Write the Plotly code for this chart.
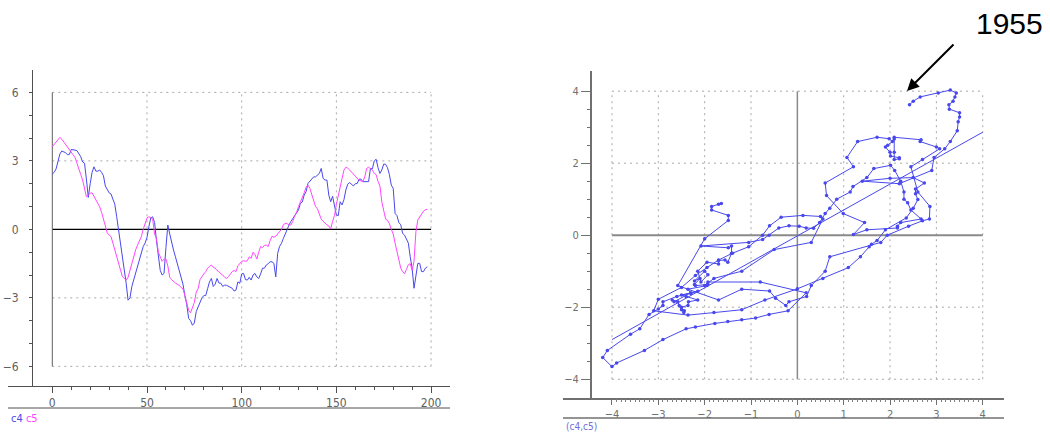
import plotly.graph_objects as go

# ---------------- data ----------------
t = list(range(0, 199))

c4 = [2.42, 2.5, 2.65, 3.04, 3.3, 3.43, 3.4, 3.36, 3.27, 3.28,
      3.5, 3.5, 3.47, 3.45, 3.3, 3.18, 2.95, 2.9, 2.2, 1.4,
      2.0, 2.5, 2.74, 2.55, 2.55, 2.6, 2.5, 2.35, 1.9, 1.72,
      1.6, 1.55, 1.36, 1.1, 0.55, 0.0, -0.7, -1.2, -1.8, -2.36,
      -3.1, -3.0, -2.5, -2.2, -1.95, -1.7, -1.4, -1.05, -0.75, -0.6,
      -0.35, 0.12, 0.5, 0.55, 0.3, -0.5, -1.2, -1.8, -2.0, -1.93,
      -0.8, 0.19, -0.2, -0.61, -0.9, -1.2, -1.5, -1.78, -2.2, -2.4,
      -2.9, -3.3, -3.9, -4.0, -4.2, -4.1, -3.6, -3.4, -3.2, -3.0,
      -2.9, -2.9, -2.6, -2.3, -2.15, -2.5, -2.4, -2.15, -2.35, -2.36,
      -2.5, -2.44, -2.45, -2.5, -2.55, -2.58, -2.7, -2.66, -2.3, -2.36,
      -1.95, -1.93, -2.2, -2.22, -2.1, -2.22, -2.0, -1.93, -2.08, -2.15,
      -1.95, -1.7, -1.7, -1.56, -1.5, -1.42, -1.42, -1.49, -2.08, -1.05,
      -0.75, -0.61, -0.4, -0.18, 0.04, 0.19, 0.35, 0.48, 0.6, 0.7,
      0.85, 1.14, 1.2, 1.5, 1.65, 2.01, 2.1, 2.23, 2.3, 2.3,
      2.38, 2.45, 2.67, 2.23, 2.16, 2.16, 1.5, 1.21, 1.45, 0.99,
      0.63, 0.6, 1.21, 1.07, 1.3, 1.72, 1.98, 2.05, 1.95, 1.9,
      2.0, 2.01, 2.2, 2.2, 2.09, 2.09, 2.09, 2.09, 2.67, 2.65,
      3.0, 3.07, 2.7, 2.45, 2.6, 2.86, 2.85, 2.7, 2.4, 1.94,
      1.8, 0.7, 0.6, 0.3, 0.2, -0.18, -0.25, -0.47, -0.6, -1.2,
      -1.7, -2.58, -2.0, -1.49, -1.49, -1.85, -1.85, -1.7, -1.64]

c5 = [3.62, 3.72, 3.84, 3.95, 4.03, 3.95, 3.84, 3.72, 3.62, 3.5,
      3.4, 3.28, 3.15, 2.9, 2.6, 2.4, 2.16, 1.8, 1.43, 1.5,
      1.58, 1.6, 1.45, 1.28, 1.15, 0.99, 0.75, 0.48, 0.15, -0.15,
      -0.25, -0.32, -0.6, -0.9, -1.2, -1.49, -1.8, -2.07, -2.15, -2.22,
      -2.1, -1.78, -1.45, -1.12, -0.9, -0.69, -0.5, -0.32, 0.0, 0.26,
      0.5, 0.55, 0.52, 0.45, -0.2, -0.4, -1.0, -1.2, -1.4, -1.3,
      -1.3, -1.6, -2.1, -2.2, -2.3, -2.35, -2.4, -2.45, -2.55, -2.6,
      -2.9, -3.2, -3.55, -3.65, -3.4, -3.2, -2.75, -2.6, -2.2, -2.05,
      -1.95, -1.85, -1.7, -1.62, -1.56, -1.66, -1.7, -1.8, -1.85, -1.95,
      -2.0, -2.1, -2.15, -2.07, -1.95, -1.85, -1.8, -1.85, -1.6, -1.5,
      -1.4, -1.37, -1.4, -1.37, -1.2, -1.27, -1.0, -1.1, -1.3, -1.0,
      -0.75, -0.8, -0.7, -0.69, -0.75, -0.5, -0.3, -0.35, -0.3, -0.2,
      -0.12, 0.0, 0.2, 0.26, 0.25, 0.2, 0.19, 0.35, 0.6, 0.75,
      1.0, 1.2, 1.35, 1.6, 1.85, 1.94, 1.8, 1.5, 1.2, 1.0,
      0.9, 0.7, 0.45, 0.35, 0.25, 0.2, 0.15, 0.02, 0.35, 0.6,
      1.1, 1.45, 1.9, 2.16, 2.6, 2.72, 2.68, 2.6, 2.5, 2.45,
      2.3, 2.2, 2.15, 2.12, 2.1, 2.3, 2.67, 2.72, 2.65, 2.6,
      2.45, 2.4, 2.1, 1.9, 1.2, 0.8, 0.45, 0.4, 0.25, 0.0,
      -0.2, -0.6, -1.0, -1.4, -1.7, -1.85, -1.95, -1.75, -1.55, -1.5,
      -1.8, -1.4, -0.1, 0.41, 0.55, 0.7, 0.8, 0.86, 0.88]

# fitted line
fit_slope = 0.72
fit_intercept = -0.02
fit_x = [-4, 4]

left_x_major = [0, 50, 100, 150, 200]
left_x_minor = [v for v in range(10, 200, 10) if v % 50 != 0]
left_y_major = [-6, -3, 0, 3, 6]
left_y_minor = [v for v in range(-6, 7) if v % 3 != 0]

right_x_major = [-4, -3, -2, -1, 0, 1, 2, 3, 4]
right_x_minor = [round(v / 10, 1) for v in range(-40, 41) if v % 10 != 0]
right_y_major = [-4, -2, 0, 2, 4]
right_y_minor = [v / 2 for v in range(-8, 9) if v % 4 != 0]

BLUE = "rgb(72,72,236)"
MAGENTA = "rgb(255,70,255)"
AXIS = "#505050"
RAXIS = "#707070"
FAMILY = "Liberation Sans Narrow, DejaVu Sans Condensed, Arial"
TICKFONT = dict(family=FAMILY, size=12, color="#606060")

W, H = 1050, 434
def fx(px):
    return px / W
def fy(py):
    return (H - py) / H

LX_DOM = [fx(8), fx(450)]
LX_RANGE = [-23.4, 210]
LY_DOM = [fy(386), fy(70)]
LY_RANGE = [-6.86, 6.98]
LY_POS = fx(32)
RX_DOM = [fx(563), fx(1004)]
RX_RANGE = [-5.057, 4.459]
RY_DOM = [fy(398.3), fy(71)]
RY_RANGE = [-4.53, 4.56]
RY_POS = fx(590.7)

fig = go.Figure()

# left: time series
fig.add_trace(go.Scatter(x=t, y=c4, mode="lines", line=dict(color=BLUE, width=1),
                         xaxis="x", yaxis="y", showlegend=False))
fig.add_trace(go.Scatter(x=t, y=c5, mode="lines", line=dict(color=MAGENTA, width=1),
                         xaxis="x", yaxis="y", showlegend=False))

# right: phase plot
fit_y = [fit_slope * v + fit_intercept for v in fit_x]
fig.add_trace(go.Scatter(x=fit_x, y=fit_y, mode="lines", line=dict(color=BLUE, width=1),
                         xaxis="x2", yaxis="y2", showlegend=False))
fig.add_trace(go.Scatter(x=c4, y=c5, mode="lines+markers", line=dict(color=BLUE, width=1),
                         marker=dict(color=BLUE, size=3.5),
                         xaxis="x2", yaxis="y2", showlegend=False))

# empty traces so that the minor-tick overlay axes get drawn
fig.add_trace(go.Scatter(x=[], y=[], xaxis="x3", yaxis="y3", showlegend=False, hoverinfo="skip"))
fig.add_trace(go.Scatter(x=[], y=[], xaxis="x4", yaxis="y4", showlegend=False, hoverinfo="skip"))

shapes = []
grid = dict(color="#a8a8a8", width=1, dash="2px,4px")
# left grid
for gy in left_y_major:
    if gy != 0:
        shapes.append(dict(type="line", xref="x", yref="y", x0=0, x1=200, y0=gy, y1=gy,
                           line=grid, layer="below"))
for gx in left_x_major[1:]:
    shapes.append(dict(type="line", xref="x", yref="y", x0=gx, x1=gx, y0=-6, y1=6,
                       line=grid, layer="below"))
shapes.append(dict(type="line", xref="x", yref="y", x0=0, x1=200, y0=0, y1=0,
                   line=dict(color="black", width=1.3), layer="below"))
shapes.append(dict(type="line", xref="x", yref="y", x0=0, x1=0, y0=-6, y1=6,
                   line=dict(color="#606060", width=1), layer="below"))
# right grid
for gy in right_y_major:
    if gy != 0:
        shapes.append(dict(type="line", xref="x2", yref="y2", x0=-4, x1=4, y0=gy, y1=gy,
                           line=grid, layer="below"))
for gx in right_x_major:
    if gx != 0:
        shapes.append(dict(type="line", xref="x2", yref="y2", x0=gx, x1=gx, y0=-4, y1=4,
                           line=grid, layer="below"))
shapes.append(dict(type="line", xref="x2", yref="y2", x0=-4, x1=4, y0=0, y1=0,
                   line=dict(color="#8a8a8a", width=2), layer="below"))
shapes.append(dict(type="line", xref="x2", yref="y2", x0=0, x1=0, y0=-4, y1=4,
                   line=dict(color="#8a8a8a", width=1.5), layer="below"))
# bottom rules under tick labels
shapes.append(dict(type="line", xref="paper", yref="paper", x0=LX_DOM[0], x1=LX_DOM[1],
                   y0=fy(408), y1=fy(408), line=dict(color=AXIS, width=1)))
shapes.append(dict(type="line", xref="paper", yref="paper", x0=RX_DOM[0], x1=RX_DOM[1],
                   y0=fy(418), y1=fy(418), line=dict(color=RAXIS, width=1.5)))

common = dict(showgrid=False, zeroline=False, ticks="outside", tickmode="array")
minor_ax = dict(showgrid=False, zeroline=False, ticks="outside", tickmode="array",
                showline=False, showticklabels=False)

fig.update_layout(
    width=W, height=H, margin=dict(l=0, r=0, t=0, b=0),
    paper_bgcolor="white", plot_bgcolor="white",
    shapes=shapes,
    xaxis=dict(domain=LX_DOM, range=LX_RANGE, anchor="y", showline=True, linecolor=AXIS,
               linewidth=1, tickvals=left_x_major, ticklen=6, tickcolor=AXIS,
               tickfont=TICKFONT, **common),
    yaxis=dict(domain=LY_DOM, range=LY_RANGE, anchor="free", position=LY_POS, showline=True,
               linecolor=AXIS, linewidth=1, tickvals=left_y_major, ticklen=3, tickcolor=AXIS,
               ticklabelstandoff=8, tickfont=TICKFONT, **common),
    xaxis3=dict(domain=LX_DOM, range=LX_RANGE, anchor="y3", overlaying="x",
                tickvals=left_x_minor, ticklen=3, tickcolor=AXIS, **minor_ax),
    yaxis3=dict(domain=LY_DOM, range=LY_RANGE, anchor="free", position=LY_POS, overlaying="y",
                tickvals=left_y_minor, ticklen=3, tickcolor=AXIS, **minor_ax),
    xaxis2=dict(domain=RX_DOM, range=RX_RANGE, anchor="y2", showline=True, linecolor=RAXIS,
                linewidth=1.5, tickvals=right_x_major, ticklen=5, tickcolor=RAXIS,
                tickfont=dict(family=FAMILY, size=11, color=RAXIS), **common),
    yaxis2=dict(domain=RY_DOM, range=RY_RANGE, anchor="free", position=RY_POS, showline=True,
                linecolor=RAXIS, linewidth=1.5, tickvals=right_y_major, ticklen=9,
                tickcolor=RAXIS, tickfont=dict(family=FAMILY, size=11, color=RAXIS), **common),
    xaxis4=dict(domain=RX_DOM, range=RX_RANGE, anchor="y4", overlaying="x2",
                tickvals=right_x_minor, ticklen=3, tickcolor="#808080", **minor_ax),
    yaxis4=dict(domain=RY_DOM, range=RY_RANGE, anchor="free", position=RY_POS, overlaying="y2",
                tickvals=right_y_minor, ticklen=4, tickcolor=RAXIS, **minor_ax),
    annotations=[
        dict(xref="paper", yref="paper", x=fx(9), y=fy(418), xanchor="left", yanchor="middle",
             text=f"<span style='color:{BLUE}'>c4</span> <span style='color:{MAGENTA}'>c5</span>",
             showarrow=False, font=dict(family=FAMILY, size=11)),
        dict(xref="paper", yref="paper", x=fx(564), y=fy(426), xanchor="left", yanchor="middle",
             text="(c4,c5)", showarrow=False,
             font=dict(family=FAMILY, size=10, color="rgb(110,110,220)")),
        dict(xref="paper", yref="paper", x=fx(1009), y=fy(24), xanchor="center", yanchor="middle",
             text="1955", showarrow=False,
             font=dict(family="Liberation Sans, Arial", size=30, color="black")),
        dict(xref="paper", yref="paper", x=fx(907), y=fy(91), text="", showarrow=True,
             axref="pixel", ayref="pixel", ax=48, ay=-48,
             arrowhead=2, arrowsize=1.2, arrowwidth=2, arrowcolor="black"),
    ],
)

fig.write_html("out.html", config={"displayModeBar": False},
               post_script="document.body.style.margin='0';document.body.style.overflow='hidden';")
